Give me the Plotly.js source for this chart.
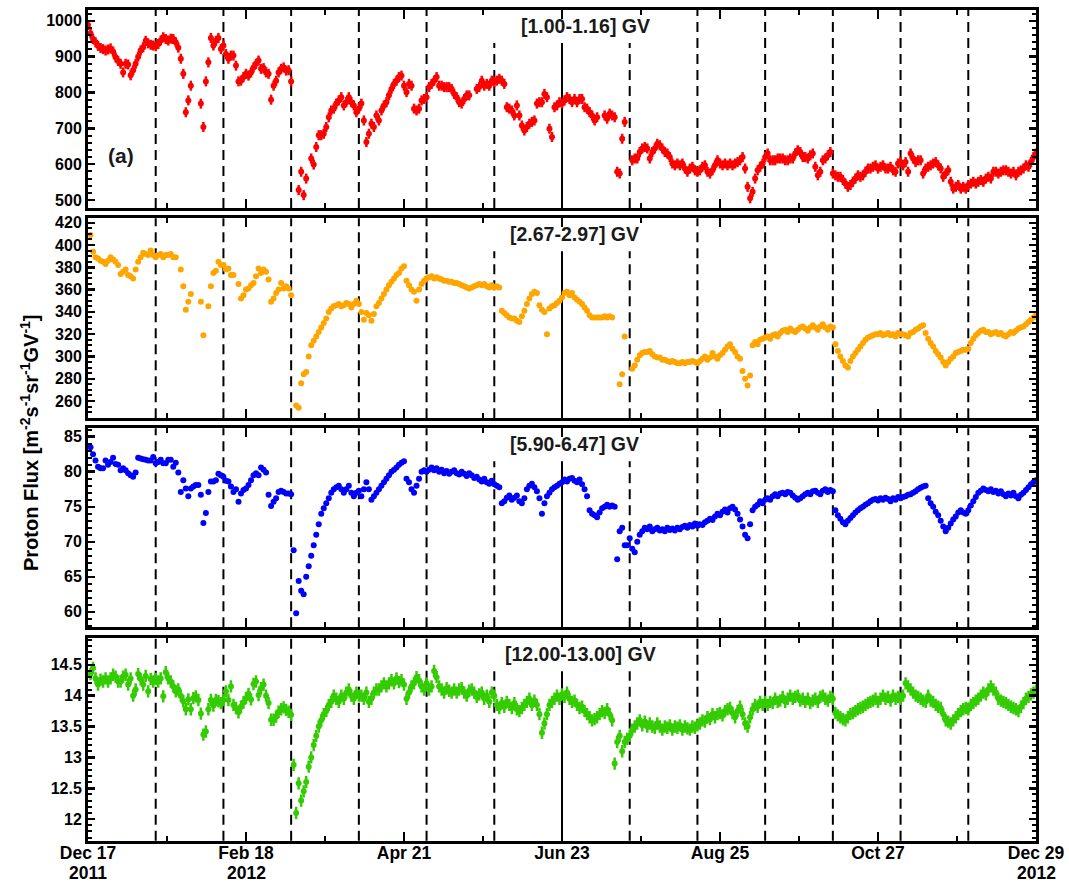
<!DOCTYPE html>
<html><head><meta charset="utf-8">
<script src="https://cdn.plot.ly/plotly-3.0.1.min.js"></script>
<style>html,body{margin:0;padding:0;background:#fff}#chart{width:1069px;height:882px}</style>
</head><body><div id="chart"></div>
<script>
// ---------- data (day offsets from 2011-12-17) ----------
const p1Days = [0,1,2,3,4,5,6,7,8,9,10,11,12,13,14,15,16,17,18,19,20,21,22,23,24,25,26,27,28,29,30,31,32,33,34,35,36,37,38,39,40,41,45,46,47,48,49,50,51,52,53,54,55,56,57,58,59,60,61,62,63,64,65,66,67,68,69,70,71,72,73,74,75,76,77,78,79,80,81,84,85,86,87,89,90,91,92,93,94,95,96,97,98,99,100,101,102,103,104,105,106,107,108,109,110,111,112,113,114,115,116,117,118,119,120,121,122,123,124,125,126,127,128,129,130,131,132,133,134,135,136,137,138,139,140,141,142,143,144,145,146,147,148,149,150,151,152,155,156,157,158,159,160,161,162,163,164,165,166,167,168,169,170,171,172,173,174,175,176,177,178,179,180,181,182,183,184,185,186,187,188,189,190,191,192,193,194,195,196,197,198,199,200,201,202,203,206,207,208,209,210,211,212,213,214,217,218,219,220,221,222,223,224,225,226,227,228,229,230,231,232,233,234,235,236,237,238,239,240,241,242,243,244,245,246,247,248,249,250,251,252,253,254,255,256,257,258,259,260,261,262,263,264,265,266,267,268,269,270,271,272,273,274,275,276,277,278,279,280,281,282,283,284,285,286,287,288,289,290,291,292,293,294,295,296,297,298,299,300,301,302,303,304,305,306,307,308,309,310,311,312,313,314,315,316,317,318,319,320,321,322,323,324,325,326,327,328,329,330,331,332,333,334,335,336,337,338,339,340,341,342,343,344,345,346,347,348,349,350,351,352,353,354,355,356,357,358,359,360,361,362,363,364,365,366,367,368,369,370,371,372,373,374,375,376,377,378];
const p1Flux = [988,965,949,940,930,924,921,917,920,923,914,898,888,880,856,880,878,848,862,880,900,917,926,944,937,933,931,929,935,945,954,949,945,950,949,940,925,894,852,745,778,819,769,704,831,884,952,931,944,952,921,931,907,894,903,903,875,831,833,843,852,847,856,870,880,889,866,868,856,852,780,819,833,856,866,870,861,862,831,528,579,514,560,616,599,648,681,681,685,704,731,750,755,769,778,787,764,773,787,773,764,745,755,769,722,662,685,713,704,736,722,750,764,773,792,810,824,833,843,847,819,801,824,819,755,750,755,778,782,787,815,824,833,843,819,819,815,815,815,810,796,787,773,769,782,792,792,810,815,833,819,824,819,833,829,833,838,833,824,759,755,750,736,764,736,708,694,704,713,718,722,769,773,773,796,787,699,676,759,764,773,769,778,787,782,773,782,773,782,782,759,755,745,736,722,731,736,727,741,736,731,579,574,671,718,611,616,616,634,644,648,644,616,634,644,657,653,644,634,630,620,602,597,602,597,602,588,579,588,593,583,579,583,593,597,579,574,583,597,611,602,597,602,597,602,597,602,606,611,620,588,537,505,523,560,583,593,602,620,630,611,611,611,616,616,616,611,611,616,616,630,639,634,620,620,616,625,630,593,569,579,611,616,625,634,574,569,565,565,556,546,537,542,551,560,569,565,569,579,588,588,593,597,588,593,597,588,588,593,583,579,602,606,597,606,579,630,616,606,611,611,574,588,593,597,602,606,597,588,565,574,583,551,532,537,542,532,537,532,542,546,551,546,551,556,551,560,565,560,579,579,574,579,583,583,579,574,579,569,579,583,588,597,593,606,620,630];
const p1Err = 14;

const p2Days = [1,2,3,4,5,6,7,8,9,10,11,12,13,14,15,16,17,18,19,20,21,22,23,24,25,26,27,28,29,30,31,32,33,34,35,37,38,39,40,41,45,46,48,49,50,51,52,53,54,55,56,57,58,60,61,62,63,64,65,66,67,68,69,70,71,72,73,74,75,76,77,78,79,80,81,83,84,85,86,87,88,89,90,91,92,93,94,95,96,97,98,99,100,101,102,103,104,105,106,107,108,109,110,111,112,113,114,115,116,117,118,119,120,121,122,123,124,125,126,127,128,129,130,131,132,133,134,135,136,137,138,139,140,141,142,143,144,145,146,147,148,149,150,151,152,153,154,155,156,157,158,159,160,161,162,163,164,165,166,167,168,169,170,171,172,173,174,175,176,177,178,179,180,181,182,183,184,185,186,187,188,189,190,191,192,193,194,195,196,197,198,199,200,201,202,203,204,205,206,207,208,209,212,213,214,217,218,219,220,221,222,223,224,225,226,227,228,229,230,231,232,233,234,235,236,237,238,239,240,241,242,243,244,245,246,247,248,249,250,251,252,253,254,255,256,257,258,259,260,261,262,263,264,265,266,267,268,269,270,271,272,273,274,275,276,277,278,279,280,281,282,283,284,285,286,287,288,289,290,291,292,293,294,295,296,297,298,299,300,301,302,303,304,305,306,307,308,309,310,311,312,313,314,315,316,317,318,319,320,321,322,323,324,325,326,327,328,329,330,331,332,333,334,335,336,337,338,339,340,341,342,343,344,345,346,347,348,349,350,351,352,353,354,355,356,357,358,359,360,361,362,363,364,365,366,367,368,369,370,371,372,373,374,375,376,377,378];
const p2Flux = [409,394,389,388,386,385,383,386,389,387,385,382,374,376,378,373,372,370,378,385,389,393,392,391,395,391,389,391,392,389,391,391,392,389,389,
378,363,342,349,356,349,319,
345,363,375,377,385,382,382,378,379,373,373,
365,352,355,360,361,364,366,372,379,375,378,376,369,349,352,357,360,366,361,363,361,355,
256,254,276,284,286,300,310,314,318,322,326,330,334,340,343,345,346,347,345,346,348,347,344,347,350,
347,340,333,339,337,332,338,345,348,352,356,360,364,367,370,373,375,379,381,368,364,360,358,350,360,365,368,370,
371,372,370,371,370,369,368,368,367,367,366,366,365,364,363,362,361,362,363,364,365,364,365,363,362,364,
362,363,362,341,339,337,335,334,334,332,331,336,341,347,352,356,358,357,346,342,340,320,343,345,346,348,350,353,
357,358,355,357,353,351,349,347,344,341,337,335,335,335,335,335,336,335,336,335,
275,284,318,
289,292,297,301,303,304,304,305,302,300,299,299,297,297,296,295,296,295,294,294,295,294,295,295,296,295,294,
296,298,300,297,299,303,300,298,301,303,306,309,311,307,304,300,298,287,280,274,283,310,313,311,315,316,317,
318,316,319,320,318,321,323,324,322,325,323,322,324,326,327,325,323,326,328,326,324,327,329,326,324,327,326,
311,305,300,296,292,290,296,300,303,306,309,312,315,317,318,319,320,320,321,319,320,321,319,320,318,321,320,
320,319,318,321,322,324,325,327,328,321,316,312,309,305,302,299,295,292,295,298,300,303,304,305,306,306,307,
312,316,319,321,323,324,322,322,320,321,322,320,321,319,318,320,322,321,323,325,326,327,329,331,333,335,337];

const dailyDays = [1,2,3,4,5,6,7,8,9,10,11,12,13,14,15,16,17,18,19,20,21,22,23,24,25,26,27,28,29,30,31,32,33,34,35,36,37,38,39,40,41,42,43,44,45,46,47,48,49,50,51,52,53,54,55,56,57,58,59,60,61,62,63,64,65,66,67,68,69,70,71,72,73,74,75,76,77,78,79,80,81,82,83,84,85,86,87,88,89,90,91,92,93,94,95,96,97,98,99,100,101,102,103,104,105,106,107,108,109,110,111,112,113,114,115,116,117,118,119,120,121,122,123,124,125,126,127,128,129,130,131,132,133,134,135,136,137,138,139,140,141,142,143,144,145,146,147,148,149,150,151,152,153,154,155,156,157,158,159,160,161,162,163,164,165,166,167,168,169,170,171,172,173,174,175,176,177,178,179,180,181,182,183,184,185,186,187,188,189,190,191,192,193,194,195,196,197,198,199,200,201,202,203,204,205,206,207,208,209,210,211,212,213,214,215,216,217,218,219,220,221,222,223,224,225,226,227,228,229,230,231,232,233,234,235,236,237,238,239,240,241,242,243,244,245,246,247,248,249,250,251,252,253,254,255,256,257,258,259,260,261,262,263,264,265,266,267,268,269,270,271,272,273,274,275,276,277,278,279,280,281,282,283,284,285,286,287,288,289,290,291,292,293,294,295,296,297,298,299,300,301,302,303,304,305,306,307,308,309,310,311,312,313,314,315,316,317,318,319,320,321,322,323,324,325,326,327,328,329,330,331,332,333,334,335,336,337,338,339,340,341,342,343,344,345,346,347,348,349,350,351,352,353,354,355,356,357,358,359,360,361,362,363,364,365,366,367,368,369,370,371,372,373,374,375,376,377,378];

const p3Flux = [83.5,82.5,81.6,80.7,80.5,80.5,81.6,81,81.4,82,81.1,81,80.2,80.5,80.2,79.8,79.5,79.3,79.9,82,81.9,81.8,81.7,81.6,81.6,82.1,81.2,81.4,81.7,81.2,81.2,81.7,81.7,80.7,81.3,79.9,77.1,78.8,77.6,76.5,77.6,77.9,78.1,78.1,76.7,72.7,74.1,77.1,78.6,78.6,78.8,79.7,79.5,79.3,78.7,78.6,77.9,77.1,77.5,75.7,76.9,77.4,77.6,78.1,78.8,79.5,79.8,79.5,80.6,80.3,79.9,76.7,75.1,75.7,76.2,77.1,77.3,77.1,76.9,76.9,76.8,68.8,59.8,64.4,
63,62.5,65,66.5,68,69.5,71,72.5,74,74.8,75.5,76.2,77,77.5,77.8,78,77.5,77,77.5,78,77,76.5,77,77.3,
76.5,77.5,78.5,77.5,76,76.5,77,77.5,78,78.5,79,79.5,80,80.3,80.6,81,81.3,81.5,79,78.5,77.5,77,78,79,80,80.2,80,
80.3,80.6,80.2,80.5,80,80.3,79.8,80.1,79.7,80,80.2,79.8,79.6,80,79.7,79.4,79.8,79.5,79.1,79.3,78.9,78.6,79,78.5,78.3,78.7,78.2,
78,77.8,75.5,75.8,76.3,76.6,76,76.3,76.6,75.8,75.5,76.2,77.5,78,78.3,77.8,77.2,76.2,74,75.5,76.5,77,77.5,77.8,78,78.3,78.5,
78.9,78.6,79,79.1,78.7,78.5,78.9,78.2,77.5,76.5,74.5,74,73.8,73.5,74.2,74.8,75,75.3,75,75.2,75,67.5,71.5,72,69.5,
69.5,70.5,69,68.5,70,71,71.5,72,71.8,72.2,71.5,71.8,72,71.6,71.8,71.5,72,71.7,71.9,71.6,72,71.8,72.1,72.3,72,72.4,72.2,72.6,72.3,
72.5,72.4,72.8,73,73.3,73.1,73.6,74,73.8,74.3,74.6,74.2,74.8,75,74.6,74,73.2,72.2,71,70.5,72.5,74.5,75,75.3,75.8,75.5,76,
76.2,76,76.5,76.8,76.5,76.9,77,76.8,77.1,77,76.6,76.3,76,76.2,76.5,76.8,77,76.8,77.2,77.3,77,76.8,77.3,77.5,77.1,77.4,77.2,
74.5,73.8,73.3,72.8,72.5,73,73.4,73.8,74.2,74.5,74.8,75,75.3,75.5,75.8,76,76.1,75.9,76.2,76,76.3,76.1,75.8,76.2,76,76.4,76.2,
76.4,76.5,76.7,76.8,77,77.2,77.5,77.7,77.9,78,76.2,75.5,75,74.3,73.8,73,72.2,71.5,72,72.6,73.2,73.6,74.2,74.5,74.2,74,74.5,
75.2,75.8,76.4,77,77.3,77.6,77.4,77.2,77.5,77.1,77.3,76.9,77.2,76.8,76.5,76.9,76.6,77,76.5,76.2,76.7,77,77.4,77.8,78.2,78.5,78.8];

const p4Flux = [14.35,14.45,14.28,14.18,14.26,14.23,14.28,14.23,14.28,14.34,14.31,14.23,14.23,14.31,14.34,14.18,14.28,14.0,14.1,14.35,14.27,14.18,14.32,14.07,14.27,14.23,14.27,14.23,14.28,13.99,14.38,14.28,14.23,14.15,14.07,14.1,14.0,13.91,13.78,13.94,13.78,13.96,13.99,13.93,13.71,13.37,13.42,13.78,13.93,13.84,13.93,13.91,13.88,13.93,14.07,13.93,14.15,13.85,13.8,13.73,13.82,13.89,13.96,14.03,13.94,14.19,14.23,14.01,14.12,14.18,14.0,13.88,13.61,13.61,13.66,13.74,13.78,13.81,13.77,13.74,13.69,12.88,12.1,12.58,
12.3,12.45,12.6,12.85,13.0,13.2,13.35,13.5,13.6,13.7,13.75,13.85,13.9,14.0,13.95,13.9,14.0,13.95,14.05,14.1,14.0,13.95,14.05,14.0,
14.0,13.95,14.05,13.9,13.95,14.05,14.1,14.1,14.15,14.2,14.15,14.2,14.25,14.2,14.28,14.22,14.25,14.18,13.95,14.05,14.15,14.2,14.3,14.25,14.15,14.1,14.2,
14.1,14.15,14.4,14.3,14.15,14.1,14.05,14.12,14.08,14.05,14.1,14.05,14.1,14.12,14.05,14.0,14.08,14.1,14.05,13.98,14.02,14.05,13.95,14.0,13.9,14.05,14.0,
13.85,13.8,13.88,13.82,13.9,13.85,13.8,13.88,13.78,13.75,13.8,13.85,13.9,13.95,13.85,13.92,13.85,13.7,13.4,13.55,13.7,13.85,13.9,13.95,14.0,13.95,14.02,
13.98,14.05,13.95,13.9,13.92,13.85,13.8,13.82,13.75,13.7,13.65,13.6,13.62,13.65,13.7,13.75,13.72,13.78,13.7,13.6,12.9,13.25,13.35,13.1,13.25,
13.3,13.35,13.45,13.5,13.55,13.6,13.52,13.58,13.5,13.55,13.5,13.48,13.55,13.5,13.45,13.5,13.48,13.52,13.45,13.5,13.48,13.52,13.45,13.5,13.47,13.45,13.5,13.48,13.52,
13.55,13.6,13.58,13.65,13.62,13.7,13.65,13.7,13.72,13.68,13.75,13.78,13.8,13.72,13.65,13.75,13.82,13.7,13.55,13.5,13.65,13.78,13.85,13.82,13.9,13.85,13.9,
13.85,13.9,13.88,13.95,13.9,13.92,13.98,13.9,13.95,14.0,13.95,13.98,14.0,13.92,13.95,13.9,13.95,13.88,13.92,13.95,13.9,13.98,14.0,13.95,13.92,13.98,13.95,
13.72,13.68,13.65,13.62,13.6,13.65,13.7,13.72,13.75,13.78,13.8,13.82,13.85,13.88,13.9,13.92,13.95,13.9,13.95,14.0,13.95,13.98,13.92,14.0,13.95,13.98,13.95,
14.0,14.2,14.15,14.1,14.05,14.0,13.98,13.95,13.92,13.9,14.0,13.92,13.9,13.85,13.82,13.8,13.7,13.6,13.58,13.55,13.6,13.65,13.7,13.75,13.78,13.8,13.78,
13.85,13.88,13.92,13.95,14.0,14.05,14.02,14.1,14.15,14.1,14.05,13.95,13.92,13.9,13.88,13.85,13.82,13.8,13.78,13.75,13.82,13.88,13.95,13.98,14.02,14.05,14.08];
const p4Err = 0.1;

const panelTitles = ['[1.00-1.16] GV','[2.67-2.97] GV','[5.90-6.47] GV','[12.00-13.00] GV'];
const majorDates = ['2011-12-17','2012-02-18','2012-04-21','2012-06-23','2012-08-25','2012-10-27','2012-12-29'];
const majorLabels = ['Dec 17','Feb 18','Apr 21','Jun 23','Aug 25','Oct 27','Dec 29'];
const yearLabels = [['2011-12-17','2011'],['2012-02-18','2012'],['2012-12-29','2012']];
const minorDates = ['2012-01-17 12:00','2012-03-20 12:00','2012-05-22 12:00','2012-07-24 12:00','2012-09-25 12:00','2012-11-27 12:00'];
const rotationDates = ['2012-01-13','2012-02-09','2012-03-07','2012-04-03','2012-04-30','2012-05-27','2012-06-23','2012-07-20','2012-08-16','2012-09-12','2012-10-09','2012-11-05','2012-12-02'];
const solidDate = '2012-06-23';
const shortLineDates = ['2012-05-27','2012-06-23','2012-07-20'];

const y1Ticks = [500,600,700,800,900,1000];
const y2Ticks = [260,280,300,320,340,360,380,400,420];
const y3Ticks = [60,65,70,75,80,85];
const y4Ticks = [12,12.5,13,13.5,14,14.5];

// ---------- helpers ----------
function toDate(d){ return new Date(Date.UTC(2011,11,17) + d*86400000).toISOString().slice(0,10); }

const W = 1069, H = 882;
const X0 = 88, X1 = 1036;
const xDom = [X0/W, X1/W];
const panelPx = [[10,208],[218.3,418.3],[428.3,627.3],[638.3,840.7]];
const yDoms = panelPx.map(p => [1 - p[1]/H, 1 - p[0]/H]);
const ranges = [[478,1030],[244.5,424],[57.8,86.2],[11.65,14.93]];
const tickSets = [y1Ticks,y2Ticks,y3Ticks,y4Ticks];
const minorSteps = [20,5,1,0.1];
const colors = ['#ff0000','#ffa500','#0000ff','#33cc00'];
const markerSizes = [6,6,6,6];
const titleX = [585,574,574,580];
const FONT = 'Liberation Sans, Arial, Helvetica, sans-serif';

const series = [[p1Days,p1Flux,p1Err],[p2Days,p2Flux,null],[dailyDays,p3Flux,null],[dailyDays,p4Flux,p4Err]];
const traces = series.map((s,i) => {
  const t = {
    type:'scatter', mode:'markers',
    x: s[0].map(toDate), y: s[1],
    xaxis: i===0 ? 'x' : 'x'+(i+1), yaxis: i===0 ? 'y' : 'y'+(i+1),
    marker:{color:colors[i], size:markerSizes[i], line:{width:0}},
    hoverinfo:'skip', showlegend:false
  };
  if (s[2] !== null) t.error_y = {type:'constant', value:s[2], color:colors[i], thickness:2.5, width:0};
  return t;
});

const layout = {
  width:W, height:H, margin:{l:0,r:0,t:0,b:0},
  paper_bgcolor:'#fff', plot_bgcolor:'#fff', showlegend:false,
  font:{family:FONT, color:'#000'},
  shapes:[], annotations:[]
};

for (let i=0;i<4;i++){
  const xs = i===0 ? '' : String(i+1);
  layout['xaxis'+xs] = {
    type:'date', domain:xDom, anchor:'y'+xs, range:['2011-12-17','2012-12-29'],
    tickmode:'array', tickvals:majorDates, ticktext:majorLabels,
    showticklabels: i===3, ticklabelstandoff:-6,
    ticks:'inside', ticklen:9, tickwidth:2.5, tickcolor:'#000',
    showline:true, linewidth:3, linecolor:'#000', mirror:'ticks',
    showgrid:false, zeroline:false,
    tickfont:{family:FONT, size:17.5, color:'#000', weight:'bold'},
    minor:{tickmode:'array', tickvals:minorDates, ticks:'inside', ticklen:5, tickwidth:2.5, tickcolor:'#000', showgrid:false}
  };
  layout['yaxis'+xs] = {
    domain:yDoms[i], anchor:'x'+xs, range:ranges[i],
    tickmode:'array', tickvals:tickSets[i], ticktext:tickSets[i].map(String),
    ticks:'inside', ticklen:7, tickwidth:2.5, tickcolor:'#000',
    showline:true, linewidth:3, linecolor:'#000', mirror:'ticks',
    showgrid:false, zeroline:false,
    tickfont:{family:FONT, size:16, color:'#000', weight:'bold'},
    minor:{dtick:minorSteps[i], tick0:0, ticks:'inside', ticklen:4, tickwidth:2, tickcolor:'#000', showgrid:false}
  };
  rotationDates.forEach(d => {
    const short = shortLineDates.includes(d);
    layout.shapes.push({
      type:'line', xref:'x'+xs, yref:'paper', layer:'below',
      x0:d, x1:d, y0:yDoms[i][0], y1: short ? yDoms[i][1] - 33/H : yDoms[i][1],
      line:{color:'#000', width:2, dash: d===solidDate ? 'solid' : '10px,6px'}
    });
  });
  layout.annotations.push({
    text:panelTitles[i], xref:'paper', yref:'paper', x:titleX[i]/W, y:1 - (panelPx[i][0]+16)/H,
    xanchor:'center', yanchor:'middle', showarrow:false,
    font:{family:FONT, size:19.5, color:'#1a1a1a', weight:'bold'}
  });
}
yearLabels.forEach(yl => {
  layout.annotations.push({
    text:yl[1], xref:'x4', yref:'paper', x:yl[0], y:1-873/H, xanchor:'center', yanchor:'middle',
    height:14, valign:'middle', showarrow:false, borderpad:0,
    font:{family:FONT, size:17.5, color:'#000', weight:'bold'}
  });
});
layout.annotations.push({
  text:'(a)', xref:'paper', yref:'paper', x:121/W, y:1-155/H, xanchor:'center', yanchor:'middle',
  showarrow:false, font:{family:FONT, size:21, color:'#1a1a1a', weight:'bold'}
});
layout.annotations.push({
  text:'Proton Flux [m<sup>-2</sup>s<sup>-1</sup>sr<sup>-1</sup>GV<sup>-1</sup>]',
  xref:'paper', yref:'paper', x:29/W, y:1-443/H, xanchor:'center', yanchor:'middle',
  textangle:-90, showarrow:false, font:{family:FONT, size:20, color:'#000', weight:'bold'}
});

Plotly.newPlot('chart', traces, layout, {staticPlot:true, displayModeBar:false});
</script></body></html>
